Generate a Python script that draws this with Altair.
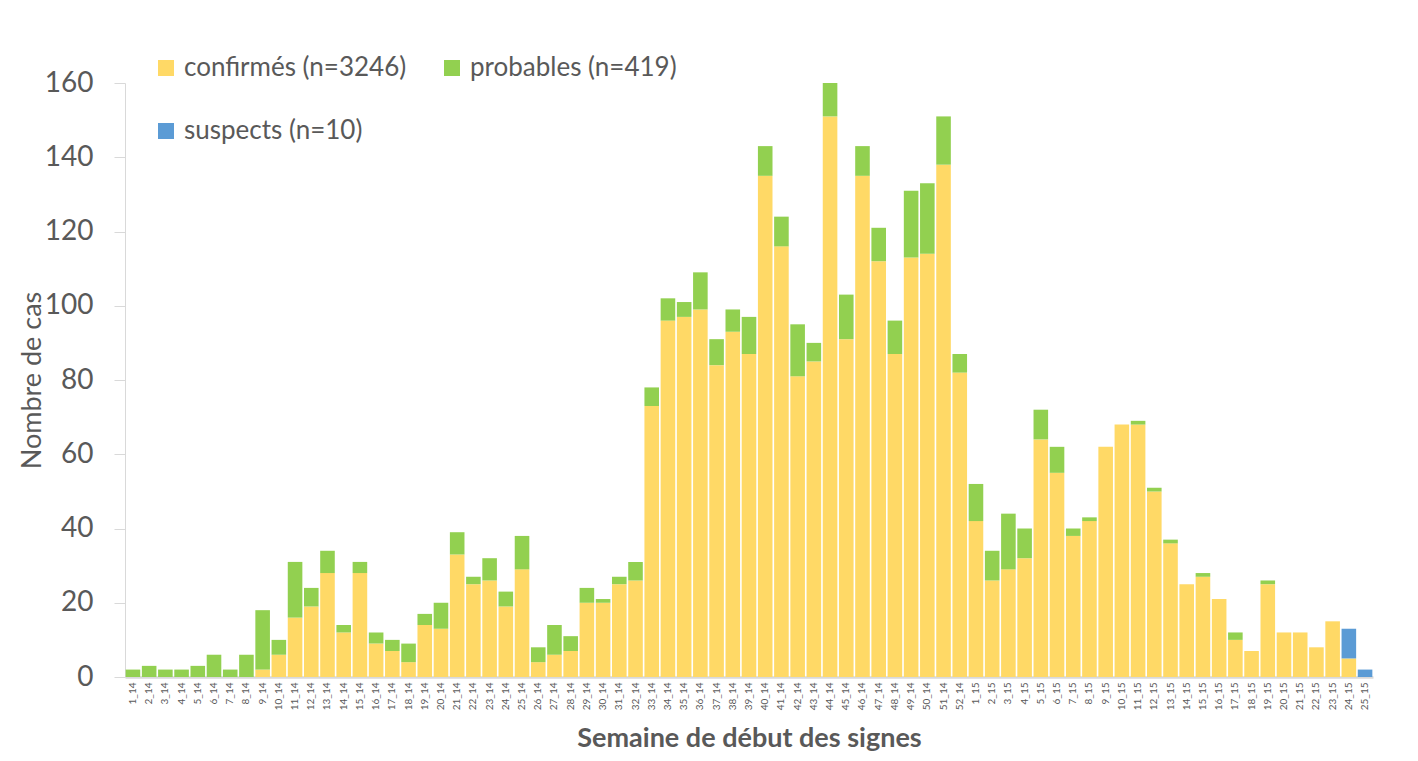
import altair as alt
import pandas as pd

weeks = [f"{i}_14" for i in range(1, 53)] + [f"{i}_15" for i in range(1, 26)]

confirmes = [0, 0, 0, 0, 0, 0, 0, 0, 2, 6,
             16, 19, 28, 12, 28, 9, 7, 4, 14, 13,
             33, 25, 26, 19, 29, 4, 6, 7, 20, 20,
             25, 26, 73, 96, 97, 99, 84, 93, 87, 135,
             116, 81, 85, 151, 91, 135, 112, 87, 113, 114,
             138, 82,
             42, 26, 29, 32, 64, 55, 38, 42, 62, 68,
             68, 50, 36, 25, 27, 21, 10, 7, 25, 12,
             12, 8, 15, 5, 0]

probables = [2, 3, 2, 2, 3, 6, 2, 6, 16, 4,
             15, 5, 6, 2, 3, 3, 3, 5, 3, 7,
             6, 2, 6, 4, 9, 4, 8, 4, 4, 1,
             2, 5, 5, 6, 4, 10, 7, 6, 10, 8,
             8, 14, 5, 9, 12, 8, 9, 9, 18, 19,
             13, 5,
             10, 8, 15, 8, 8, 7, 2, 1, 0, 0,
             1, 1, 1, 0, 1, 0, 2, 0, 1, 0,
             0, 0, 0, 0, 0]

suspects = [0] * 52 + [0] * 23 + [8, 2]

series = ["confirmés (n=3246)", "probables (n=419)", "suspects (n=10)"]
colors = ["#FFD966", "#92D050", "#5B9BD5"]
# legend is filled column by column: column 1 = confirmés, suspects; column 2 = probables
legend_order = [series[0], series[2], series[1]]
legend_colors = [colors[0], colors[2], colors[1]]

rows = []
for i, w in enumerate(weeks):
    for k, (name, vals) in enumerate(zip(series, [confirmes, probables, suspects])):
        rows.append({"semaine": w, "serie": name, "ordre": k, "cas": vals[i]})
df = pd.DataFrame(rows)

FONT = "Lato"
TXT = "#595959"

chart = alt.Chart(df).mark_bar().encode(
    x=alt.X("semaine:N", sort=weeks,
            scale=alt.Scale(paddingInner=0.1, paddingOuter=0.04),
            axis=alt.Axis(title="Semaine de début des signes", labelAngle=270,
                          labelFontSize=10, labelColor=TXT, labelFont=FONT,
                          ticks=False, labelPadding=5,
                          domainColor="#D9D9D9", domainWidth=2.5,
                          titleFont=FONT, titleFontSize=27, titleFontWeight="bold",
                          titleColor=TXT, titlePadding=16)),
    y=alt.Y("cas:Q", stack="zero",
            scale=alt.Scale(domain=[0, 160], nice=False),
            axis=alt.Axis(title="Nombre de cas", values=list(range(0, 161, 20)),
                          grid=False, labelFontSize=28, labelColor=TXT, labelFont=FONT,
                          tickSize=11, tickColor="#D9D9D9", domainColor="#D9D9D9",
                          labelPadding=21, titleFont=FONT, titleFontSize=27,
                          titleFontWeight="normal", titleColor=TXT, titlePadding=-2)),
    color=alt.Color("serie:N", sort=legend_order,
                    scale=alt.Scale(domain=legend_order, range=legend_colors),
                    legend=alt.Legend(title=None, orient="none", legendX=28, legendY=-28,
                                      columns=2, symbolType="square", symbolSize=256,
                                      symbolStrokeWidth=0, labelFontSize=26,
                                      labelFont=FONT, labelColor=TXT, labelOffset=5,
                                      labelLimit=0,
                                      columnPadding=32, rowPadding=37, padding=0)),
    order=alt.Order("ordre:Q", sort="ascending"),
).properties(
    width=1248, height=594,
    autosize=alt.AutoSizeParams(type="none"),
    padding={"left": 117, "top": 75, "right": 37, "bottom": 84},
    background="white",
).configure_view(stroke=None)

chart.save("out.html", embed_options={"renderer": "svg", "actions": False})
